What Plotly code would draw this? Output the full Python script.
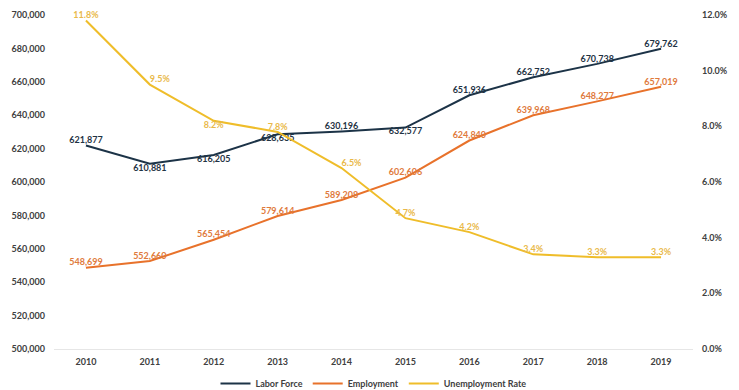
import plotly.graph_objects as go

years = ["2010", "2011", "2012", "2013", "2014", "2015", "2016", "2017", "2018", "2019"]
labor_force = [621877, 610881, 616205, 628635, 630196, 632577, 651936, 662752, 670738, 679762]
employment = [548699, 552660, 565454, 579614, 589208, 602606, 624840, 639968, 648277, 657019]
unemployment_rate = [11.8, 9.5, 8.2, 7.8, 6.5, 4.7, 4.2, 3.4, 3.3, 3.3]

lf_pos = ["top center", "bottom center", "bottom center", "bottom center", "top center",
          "bottom center", "top center", "top center", "top center", "top center"]
ur_pos = ["top center", "top right", "bottom center", "top center", "top right",
          "top center", "top center", "top center", "top center", "top center"]

C_LF = "#1c3347"
C_EMP = "#e8722b"
C_UR = "#efbd2a"
FONT = "Lato"
TICK = dict(size=9, color="#404040", family=FONT, weight="bold")

fig = go.Figure()
fig.add_trace(go.Scatter(
    x=years, y=labor_force, name="Labor Force", mode="lines+text",
    line=dict(color=C_LF, width=2), cliponaxis=False,
    text=[f"{v:,}" for v in labor_force], textposition=lf_pos,
    textfont=dict(color="#1f3344", size=9, family=FONT, weight="bold"),
))
fig.add_trace(go.Scatter(
    x=years, y=employment, name="Employment", mode="lines+text",
    line=dict(color=C_EMP, width=2), cliponaxis=False,
    text=[f"{v:,}" for v in employment], textposition="top center",
    textfont=dict(color="#e07a3c", size=9, family=FONT, weight="bold"),
))
fig.add_trace(go.Scatter(
    x=years, y=[v / 100 for v in unemployment_rate], name="Unemployment Rate", mode="lines+text",
    line=dict(color=C_UR, width=2), yaxis="y2", cliponaxis=False,
    text=[f"{v:.1f}%" for v in unemployment_rate], textposition=ur_pos,
    textfont=dict(color="#e9b94a", size=9, family=FONT, weight="bold"),
))

fig.update_layout(
    width=739, height=400,
    margin=dict(l=46, r=54, t=7, b=59),
    plot_bgcolor="white", paper_bgcolor="white",
    font=dict(family=FONT, size=9, color="#404040"),
    xaxis=dict(range=[-0.5, 9.5], showgrid=False, showline=True, linecolor="#e6e6e6", linewidth=1,
               tickfont=TICK, ticks="", zeroline=False, ticklabelstandoff=4),
    yaxis=dict(range=[500000, 700000], dtick=20000, tickformat=",d", showgrid=False,
               zeroline=False, showline=False, ticks="", ticklabelstandoff=8,
               tickfont=TICK, automargin=False, ticklabeloverflow="allow"),
    yaxis2=dict(range=[0, 0.12], dtick=0.02, tickformat=".1%", overlaying="y", side="right",
                showgrid=False, zeroline=False, showline=False, ticks="", ticklabelstandoff=8,
                tickfont=TICK, automargin=False, ticklabeloverflow="allow"),
    legend=dict(orientation="h", x=0.5, xanchor="center", y=-0.06, yanchor="top",
                font=TICK, itemwidth=30, tracegroupgap=0),
    showlegend=True,
)

fig.write_html("out.html")
